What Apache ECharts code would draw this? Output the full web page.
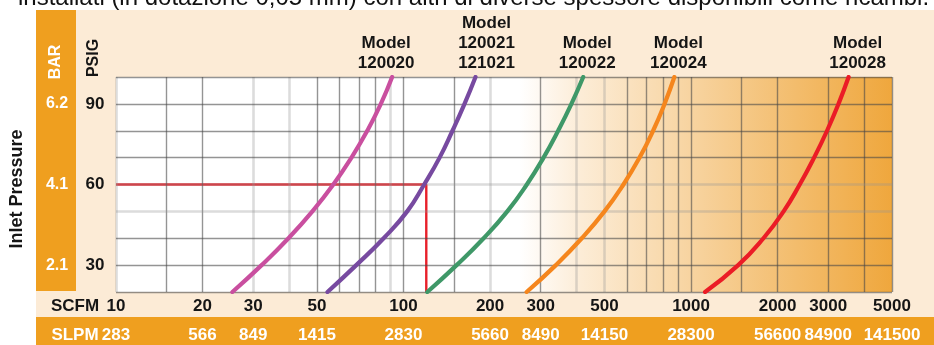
<!DOCTYPE html>
<html>
<head>
<meta charset="utf-8">
<script src="https://cdn.jsdelivr.net/npm/echarts@6/dist/echarts.min.js"></script>
<style>
  html, body { margin: 0; padding: 0; background: #fff; }
  #chart { width: 934px; height: 345px; }
</style>
</head>
<body>
<div id="chart"></div>
<script>
// Inlet pressure steps (PSIG) at which each flow curve is sampled
const psig = [20, 30, 40, 50, 60, 70, 80, 90, 100];

// Flow (SCFM) of each model at the pressures above
const flow120020 = [25.4, 32.1, 39.8, 48.2, 57.0, 65.9, 74.8, 83.4, 91.3];
const flow120021 = [54.4, 68.5, 85.3, 103, 118, 133.5, 148, 163, 178];
const flow120022 = [121, 153, 190, 229.6, 268.5, 306.9, 345, 383.7, 421.7];
const flow120024 = [268, 338.8, 416.9, 500, 582, 662, 738, 809, 875];
const flow120028 = [1119, 1459, 1786, 2099, 2388, 2679, 2972, 3258, 3532];

const modelNames = ['Model\n120020', 'Model\n120021\n121021', 'Model\n120022', 'Model\n120024', 'Model\n120028'];

// Example operating point: 120 SCFM at 60 PSIG
const exampleFlow = 120;
const examplePressure = 60;

// Axis labels
const scfmTicks = [10, 20, 30, 50, 100, 200, 300, 500, 1000, 2000, 3000, 5000];
const slpmTicks = ['283', '566', '849', '1415', '2830', '5660', '8490', '14150', '28300', '56600', '84900', '141500'];
const psigTicks = [30, 60, 90];
const barTicks = ['2.1', '4.1', '6.2'];

// Grid rulings
const gridFlow = [10, 15, 20, 30, 40, 50, 60, 70, 80, 90, 100, 150, 200, 300, 400, 500, 600, 700, 800, 900, 1000, 1500, 2000, 3000, 4000, 5000];
const gridPressure = [20, 30, 40, 50, 60, 70, 80, 90, 100];
const softFlowLines = [10, 30, 40, 90, 200, 400, 500];
const softPressureLines = [50, 60];

const FONT = "'Liberation Sans', Arial, sans-serif";
const curveColors = ['#c94f9f', '#774aa0', '#3f9868', '#f5861d', '#eb1c26'];
const labelOffsets = [[-6, 0], [11, 0], [4, 0], [4, 0], [9, 0]];
const CREAM = '#fcebd6';
const ORANGE = '#ef9f1f';

const darkRule = { color: 'rgba(70,70,70,0.58)', width: 1.4, type: 'solid' };
const softRule = { color: 'rgba(150,150,150,0.33)', width: 2.6, type: 'solid' };

const rules = []
  .concat(gridFlow.map(v => ({ xAxis: v, lineStyle: softFlowLines.includes(v) ? softRule : darkRule })))
  .concat(gridPressure.map(v => ({ yAxis: v, lineStyle: softPressureLines.includes(v) ? softRule : darkRule })));

const flows = [flow120020, flow120021, flow120022, flow120024, flow120028];

const curveSeries = flows.map((flow, i) => ({
  type: 'line',
  name: modelNames[i],
  data: flow.map((f, k) => [f, psig[k]]),
  smooth: 0.5,
  showSymbol: false,
  symbol: 'none',
  z: 5,
  lineStyle: { color: curveColors[i], width: 4.2, cap: 'round' },
  markPoint: {
    symbol: 'rect',
    symbolSize: 1,
    itemStyle: { color: 'rgba(0,0,0,0)' },
    silent: true,
    data: [{ coord: [flow[flow.length - 1], psig[psig.length - 1]] }],
    label: {
      show: true,
      position: 'top',
      distance: 3,
      offset: labelOffsets[i],
      formatter: modelNames[i],
      color: '#151515',
      fontFamily: FONT,
      fontWeight: 'bold',
      fontSize: 17,
      lineHeight: 20,
      align: 'center'
    }
  }
}));

const chart = echarts.init(document.getElementById('chart'), null, { renderer: 'canvas' });

const option = {
  animation: false,
  backgroundColor: '#ffffff',
  grid: {
    left: 116, right: 42, top: 77, bottom: 53,
    show: true,
    borderWidth: 0,
    backgroundColor: {
      type: 'linear', x: 0, y: 0, x2: 1, y2: 0,
      colorStops: [
        { offset: 0, color: '#ffffff' },
        { offset: 0.52, color: '#ffffff' },
        { offset: 0.6, color: '#fcecd6' },
        { offset: 1, color: '#efa73d' }
      ]
    }
  },
  xAxis: [
    {
      type: 'log', logBase: 10, min: 10, max: 5000, position: 'bottom',
      axisLine: { show: false }, axisTick: { show: false }, splitLine: { show: false },
      axisLabel: {
        customValues: scfmTicks,
        formatter: v => String(Math.round(v)),
        color: '#151515', fontFamily: FONT, fontWeight: 'bold', fontSize: 17, margin: 6
      }
    },
    {
      type: 'log', logBase: 10, min: 10, max: 5000, position: 'bottom', offset: 0,
      axisLine: { show: false }, axisTick: { show: false }, splitLine: { show: false },
      axisLabel: {
        customValues: scfmTicks,
        formatter: v => slpmTicks[scfmTicks.indexOf(Math.round(v))] || '',
        color: '#ffffff', fontFamily: FONT, fontWeight: 'bold', fontSize: 17, margin: 35
      }
    }
  ],
  yAxis: [
    {
      type: 'value', min: 20, max: 100, interval: 10,
      axisLine: { show: false }, axisTick: { show: false }, splitLine: { show: false },
      axisLabel: {
        formatter: v => (psigTicks.includes(v) ? String(v) : ''),
        color: '#151515', fontFamily: FONT, fontWeight: 'bold', fontSize: 17,
        align: 'center', margin: 21, padding: [5, 0, 0, 0]
      }
    },
    {
      type: 'value', min: 20, max: 100, interval: 10, position: 'left',
      axisLine: { show: false }, axisTick: { show: false }, splitLine: { show: false },
      axisLabel: {
        formatter: v => { const k = psigTicks.indexOf(v); return k >= 0 ? barTicks[k] : ''; },
        color: '#ffffff', fontFamily: FONT, fontWeight: 'bold', fontSize: 16,
        align: 'center', margin: 59, padding: [5, 0, 0, 0]
      }
    }
  ],
  series: [
    {
      type: 'line',
      data: [],
      z: 1,
      silent: true,
      markLine: {
        silent: true,
        symbol: 'none',
        label: { show: false },
        data: rules
      }
    },
    {
      type: 'line',
      data: [[10, examplePressure], [exampleFlow, examplePressure], [exampleFlow, 20]],
      symbol: 'none',
      z: 3,
      lineStyle: { color: '#e8202a', width: 2.4 }
    }
  ].concat(curveSeries),
  graphic: {
    elements: [
      { type: 'rect', z: -10, silent: true, shape: { x: 36, y: 10, width: 898, height: 335 }, style: { fill: CREAM } },
      { type: 'rect', z: -9, silent: true, shape: { x: 36, y: 10, width: 40, height: 281 }, style: { fill: ORANGE } },
      { type: 'rect', z: -9, silent: true, shape: { x: 36, y: 317, width: 898, height: 28 }, style: { fill: ORANGE } },
      {
        type: 'text', z: 50, silent: true, x: 18, y: 10,
        style: { text: 'installati (in dotazione 0,05 mm) con altri di diverse spessore disponibili come ricambi.',
          fill: '#111', fontFamily: FONT, fontSize: 24, align: 'left', verticalAlign: 'bottom' }
      },
      {
        type: 'text', z: 50, silent: true, x: 56, y: 62, rotation: Math.PI / 2,
        style: { text: 'BAR', fill: '#ffffff', fontFamily: FONT, fontWeight: 'bold', fontSize: 16, align: 'center', verticalAlign: 'middle' }
      },
      {
        type: 'text', z: 50, silent: true, x: 94, y: 58, rotation: Math.PI / 2,
        style: { text: 'PSIG', fill: '#151515', fontFamily: FONT, fontWeight: 'bold', fontSize: 16, align: 'center', verticalAlign: 'middle' }
      },
      {
        type: 'text', z: 50, silent: true, x: 17, y: 189, rotation: Math.PI / 2,
        style: { text: 'Inlet Pressure', fill: '#151515', fontFamily: FONT, fontWeight: 'bold', fontSize: 18, align: 'center', verticalAlign: 'middle' }
      },
      {
        type: 'text', z: 50, silent: true, x: 75, y: 306,
        style: { text: 'SCFM', fill: '#151515', fontFamily: FONT, fontWeight: 'bold', fontSize: 17, align: 'center', verticalAlign: 'middle' }
      },
      {
        type: 'text', z: 50, silent: true, x: 75, y: 335,
        style: { text: 'SLPM', fill: '#ffffff', fontFamily: FONT, fontWeight: 'bold', fontSize: 17, align: 'center', verticalAlign: 'middle' }
      }
    ]
  }
};

chart.setOption(option);
</script>
</body>
</html>
